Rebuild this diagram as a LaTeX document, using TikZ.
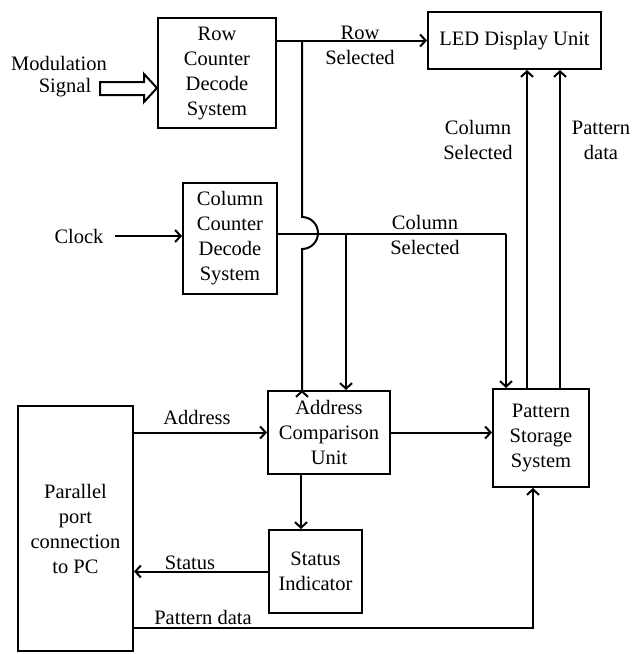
\documentclass[tikz,border=0pt]{standalone}
\usepackage{fontspec}
\setmainfont{Liberation Serif}
\newfontfamily\serf{Liberation Serif}
\usetikzlibrary{arrows.meta,calc}
\begin{document}
\begin{tikzpicture}[x=1pt,y=-1pt,
  every node/.style={font=\serf\fontsize{20.5}{25}\selectfont, inner sep=0pt},
  box/.style={draw, line width=2pt, align=center},
  lbl/.style={align=center},
  arr/.style={line width=2pt, -{Straight Barb[length=5.5pt,width=12pt,line width=2pt]}},
  ln/.style={line width=2pt}]
\useasboundingbox (0,0) rectangle (633,654);
% boxes
\node[box, minimum width=118pt, minimum height=110pt] (row) at (217,73) {Row\\Counter\\Decode\\System};
\node[box, minimum width=94pt, minimum height=111pt] (colc) at (230,238.5) {Column\\Counter\\Decode\\System};
\node[box, minimum width=173pt, minimum height=57pt] (led) at (514.5,40.5) {LED Display Unit};
\node[box, minimum width=122pt, minimum height=83pt] (addr) at (329,432.5) {Address\\Comparison\\Unit};
\node[box, minimum width=96pt, minimum height=98pt] (pss) at (541,438) {Pattern\\Storage\\System};
\node[box, minimum width=93pt, minimum height=83pt] (stat) at (315.5,571.5) {Status\\Indicator};
\node[box, minimum width=115pt, minimum height=245pt] (pc) at (75.5,528.5) {Parallel\\port\\connection\\to PC};
% labels
\node (mod1) at (59,63) {Modulation};
\node (mod2) at (65,88) {Signal};
\node (clk) at (79,236) {Clock};
\node[lbl] (rowsel) at (360,45) {Row\\Selected};
\node[lbl] (colsel1) at (425,235) {Column\\Selected};
\node[lbl] (colsel2) at (478,140) {Column\\Selected};
\node[lbl] (patd1) at (601,140) {Pattern\\data};
\node (adl) at (197,417) {Address};
\node (stl) at (190,563) {Status};
\node (pdl) at (203,617) {Pattern data};
% hollow arrow
\coordinate (hs) at (100,88);
\draw[line width=2pt, line join=miter] (hs) ++(0,-6) -- (144,82) -- (144,74) -- (row.west |- hs) -- (144,102) -- (144,95) -- (100,95) -- cycle;
% clock
\coordinate (clks) at (115,236);
\draw[arr] (clks) -- (colc.west |- clks);
% row selected
\coordinate (rj) at (302,41);
\draw[arr] (row.east |- led.west) -- (led.west);
\draw[arr] (rj) -- (302,217) arc[start angle=90, end angle=-90, radius=16pt] -- (302,391) -- (addr.north -| rj);
% column selected
\coordinate (ce) at ([yshift=5pt]colc.east);
\coordinate (cb) at (346,0);
\coordinate (cp) at (506,0);
\draw[ln] (ce) -- (ce -| cp);
\draw[arr] (ce -| cb) -- (addr.north -| cb);
\draw[arr] (ce -| cp) -- (pss.north -| cp);
% up to LED
\coordinate (u1) at (527,0);
\coordinate (u2) at (560,0);
\draw[arr] (pss.north -| u1) -- (led.south -| u1);
\draw[arr] (pss.north -| u2) -- (led.south -| u2);
% address
\draw[arr] (pc.east |- addr.west) -- (addr.west);
\draw[arr] (addr.east) -- (pss.west |- addr.east);
\coordinate (sx) at (301,0);
\draw[arr] (addr.south -| sx) -- (stat.north -| sx);
\draw[arr] (stat.west) -- (pc.east |- stat.west);
% pattern data
\coordinate (pd) at (533,628);
\draw[arr] (pc.east |- pd) -- (pd) -- (pss.south -| pd);
\end{tikzpicture}
\end{document}
